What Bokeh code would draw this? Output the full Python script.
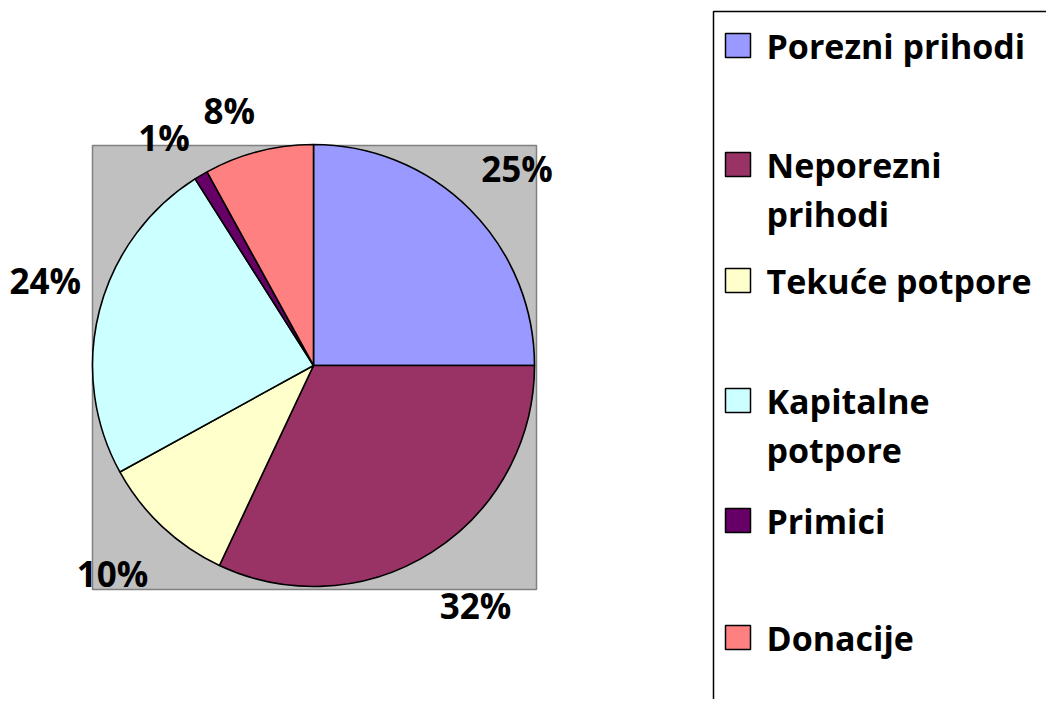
import math
from bokeh.plotting import figure
from bokeh.models import Range1d, ColumnDataSource
from bokeh.embed import file_html
from bokeh.resources import INLINE
from bokeh.core.properties import value

# ---- data ----
categories = ["Porezni prihodi", "Neporezni prihodi", "Tekuće potpore",
              "Kapitalne potpore", "Primici", "Donacije"]
legend_lines = [["Porezni prihodi"], ["Neporezni", "prihodi"], ["Tekuće potpore"],
                ["Kapitalne", "potpore"], ["Primici"], ["Donacije"]]
shares = [25, 32, 10, 24, 1, 8]
pct_labels = ["25%", "32%", "10%", "24%", "1%", "8%"]
colors = ["#9999FF", "#993366", "#FFFFCC", "#CCFFFF", "#660066", "#FF8080"]

# ---- layout (data coords: x = picture x, y = 715 - picture y) ----
W, H = 1046, 699
FONT = value("Open Sans")
p = figure(width=W, height=H, x_range=Range1d(0, W), y_range=Range1d(715 - H, 715),
           output_backend="svg", toolbar_location=None, min_border=0)
p.axis.visible = False
p.grid.visible = False
p.outline_line_color = None
p.background_fill_color = "white"
p.border_fill_color = "white"

def Y(sy):
    return 715 - sy

# plot area
p.quad(left=[92], right=[536], top=[Y(145)], bottom=[Y(589)],
       fill_color="#C0C0C0", line_color="#808080", line_width=1.5)

# pie
cx, cy, r = 313, Y(365), 221
total = float(sum(shares))
starts, ends, mids = [], [], []
cum = 0.0
for s in shares:
    a0 = cum / total
    cum += s
    a1 = cum / total
    # clockwise from 12 o'clock
    starts.append(math.pi / 2 - a1 * 2 * math.pi)
    ends.append(math.pi / 2 - a0 * 2 * math.pi)
    mids.append(math.pi / 2 - (a0 + a1) / 2 * 2 * math.pi)

src = ColumnDataSource(dict(start=starts, end=ends, color=colors, cat=categories))
p.wedge(x=cx, y=cy, radius=r, start_angle="start", end_angle="end", source=src,
        fill_color="color", line_color="black", line_width=1.6, direction="anticlock")

# data labels outside the pie (small nudges like the original's label placement)
lr = 282
nudge = [(4, -2), (11, -2), (-8, -2), (5, 15), (-6, -15), (-14, -18)]
lx = [cx + lr * math.cos(m) + d[0] for m, d in zip(mids, nudge)]
ly = [cy + lr * math.sin(m) + d[1] for m, d in zip(mids, nudge)]
p.text(x=lx, y=ly, text=pct_labels, text_font=FONT, text_font_style="bold",
       text_font_size="35px", text_align="center", text_baseline="middle", text_color="black")

# legend box
p.quad(left=[713], right=[1200], top=[Y(11)], bottom=[-200],
       fill_color=None, line_color="black", line_width=1.5)

baselines = [58, 177, 293, 413, 533, 650]
line_gap = 49
sq_x0, sq_x1 = 725, 750
for i, lines in enumerate(legend_lines):
    b = baselines[i]
    p.quad(left=[sq_x0], right=[sq_x1], top=[Y(b - 25)], bottom=[Y(b - 1)],
           fill_color=colors[i], line_color="black", line_width=1.5)
    tx, ty, tt = [], [], []
    for j, ln in enumerate(lines):
        tx.append(766)
        ty.append(Y(b - 13 + j * line_gap))
        tt.append(ln)
    p.text(x=tx, y=ty, text=tt, text_font=FONT, text_font_style="bold",
           text_font_size="34px", text_align="left", text_baseline="middle",
           text_color="black")

open("out.html", "w").write(file_html(p, INLINE))
